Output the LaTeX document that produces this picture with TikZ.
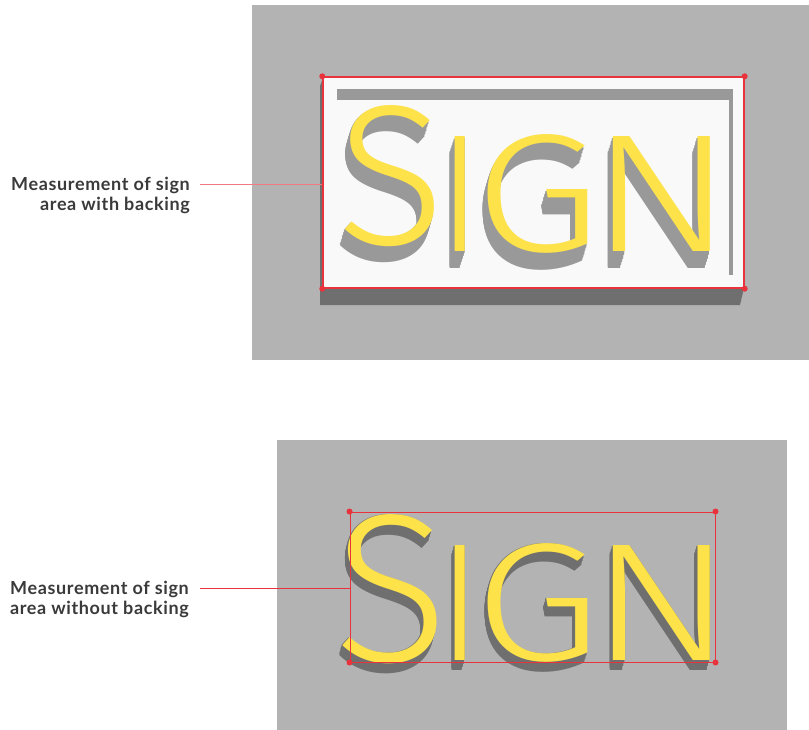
\documentclass[tikz,border=0pt]{standalone}
\usepackage{fontspec}
\usetikzlibrary{calc}
\IfFontExistsTF{Fira Sans Light}{\newfontfamily\signfont{Fira Sans Light}}{%
 \IfFontExistsTF{Lato Light}{\newfontfamily\signfont{Lato Light}}{%
  \IfFontExistsTF{Open Sans Light}{\newfontfamily\signfont{Open Sans Light}}{%
   \IfFontExistsTF{DejaVu Sans ExtraLight}{\newfontfamily\signfont{DejaVu Sans ExtraLight}}{%
    \newfontfamily\signfont{Fira Sans}}}}}
\newfontfamily\labelfont{Lato}[LetterSpace=3.5]
\definecolor{bggray}{HTML}{B3B3B3}
\definecolor{panelwhite}{HTML}{F9F9F9}
\definecolor{darkshade}{HTML}{6F6F6F}
\definecolor{barshade}{HTML}{999999}
\definecolor{signred}{HTML}{E8323C}
\definecolor{leadred}{HTML}{F07A80}
\definecolor{signyellow}{HTML}{FDE249}
\definecolor{labelgray}{HTML}{3A3A3A}
\tikzset{
  bgbox/.style={fill=bggray, draw=none},
  labeltext/.style={inner sep=0, anchor=base east, text=labelgray, font=\labelfont\bfseries\fontsize{18}{21}\selectfont},
  arearect/.style={draw=signred, inner sep=0, line width=1.4pt},
  cornerdot/.style={fill=signred, circle, inner sep=0, minimum size=6pt},
  letter/.style={inner sep=0, anchor=base},
}
% \glyph{height}{xscale}{char}
\newcommand{\glyph}[3]{\scalebox{#2}[1]{\resizebox{!}{#1}{\signfont\fontsize{100}{100}\selectfont #3}}}
% \signword{baseline y}{dx}{dy}{shadow colour}{prefix}{S height}{S baseline shift}
\newcommand{\signword}[7]{%
  \foreach \k in {0,...,15}{%
    \pgfmathsetmacro{\ox}{#2*(16-\k)/16}%
    \pgfmathsetmacro{\oy}{#3*(16-\k)/16}%
    \node[letter, text=#4] (#5s\k) at (391+\ox, #1+#7+\oy) {\glyph{#6}{1}{S}};
    \node[letter, text=#4] (#5i\k) at (460+\ox, #1+\oy) {\glyph{115pt}{1}{I}};
    \node[letter, text=#4] (#5g\k) at (537.5+\ox, #1+\oy) {\glyph{117pt}{1.22}{G}};
    \node[letter, text=#4] (#5n\k) at (661.5+\ox, #1+\oy) {\glyph{115pt}{1.28}{N}};
  }%
  \node[letter, text=signyellow] (#5S) at (391, #1+#7) {\glyph{#6}{1}{S}};
  \node[letter, text=signyellow] (#5I) at (460, #1) {\glyph{115pt}{1}{I}};
  \node[letter, text=signyellow] (#5G) at (537.5, #1) {\glyph{117pt}{1.22}{G}};
  \node[letter, text=signyellow] (#5N) at (661.5, #1) {\glyph{115pt}{1.28}{N}};
}
\begin{document}
\begin{tikzpicture}[x=1pt, y=-1pt]
\useasboundingbox (0,0) rectangle (809,730);
% ---------- top panel ----------
\fill[bggray] (252,5) rectangle (809,360);
\fill[darkshade] (323,78) -- (320,86) -- (320,305) -- (740,305) -- (744,288) -- (323,288) -- cycle;
\fill[panelwhite] (323,77) rectangle (744,288);
\fill[barshade] (337,89) rectangle (733,100);
\fill[barshade] (729,89) rectangle (733,275);
\signword{252}{-5}{17}{barshade}{t}{139pt}{-8}
\node[arearect, minimum width=421pt, minimum height=211pt] (area1) at (533.5,182.5) {};
\foreach \c in {north west, north east, south west, south east}
  \node[cornerdot] (d1\c) at (area1.\c) {};
\node[labeltext] (lab1a) at (190,190.5) {Measurement of sign};
\node[labeltext] (lab1b) at (190,210.5) {area with backing};
\coordinate (lead1) at (200,184);
\draw[leadred, line width=0.8pt] (lead1) -- (lead1 -| area1.west);
% ---------- bottom panel ----------
\fill[bggray] (277,440) rectangle (787,730);
\signword{660}{-3}{10}{darkshade}{b}{147pt}{1}
\node[draw=signred, inner sep=0, line width=1pt, minimum width=365pt, minimum height=150pt] (area2) at (532.5,587) {};
\foreach \c in {north west, north east, south west, south east}
  \node[cornerdot] (d2\c) at (area2.\c) {};
\node[labeltext] (lab2a) at (189,594.5) {Measurement of sign};
\node[labeltext] (lab2b) at (189,614.5) {area without backing};
\coordinate (lead2) at (200,588);
\draw[signred, line width=0.8pt] (lead2) -- (lead2 -| area2.west);
\end{tikzpicture}
\end{document}
